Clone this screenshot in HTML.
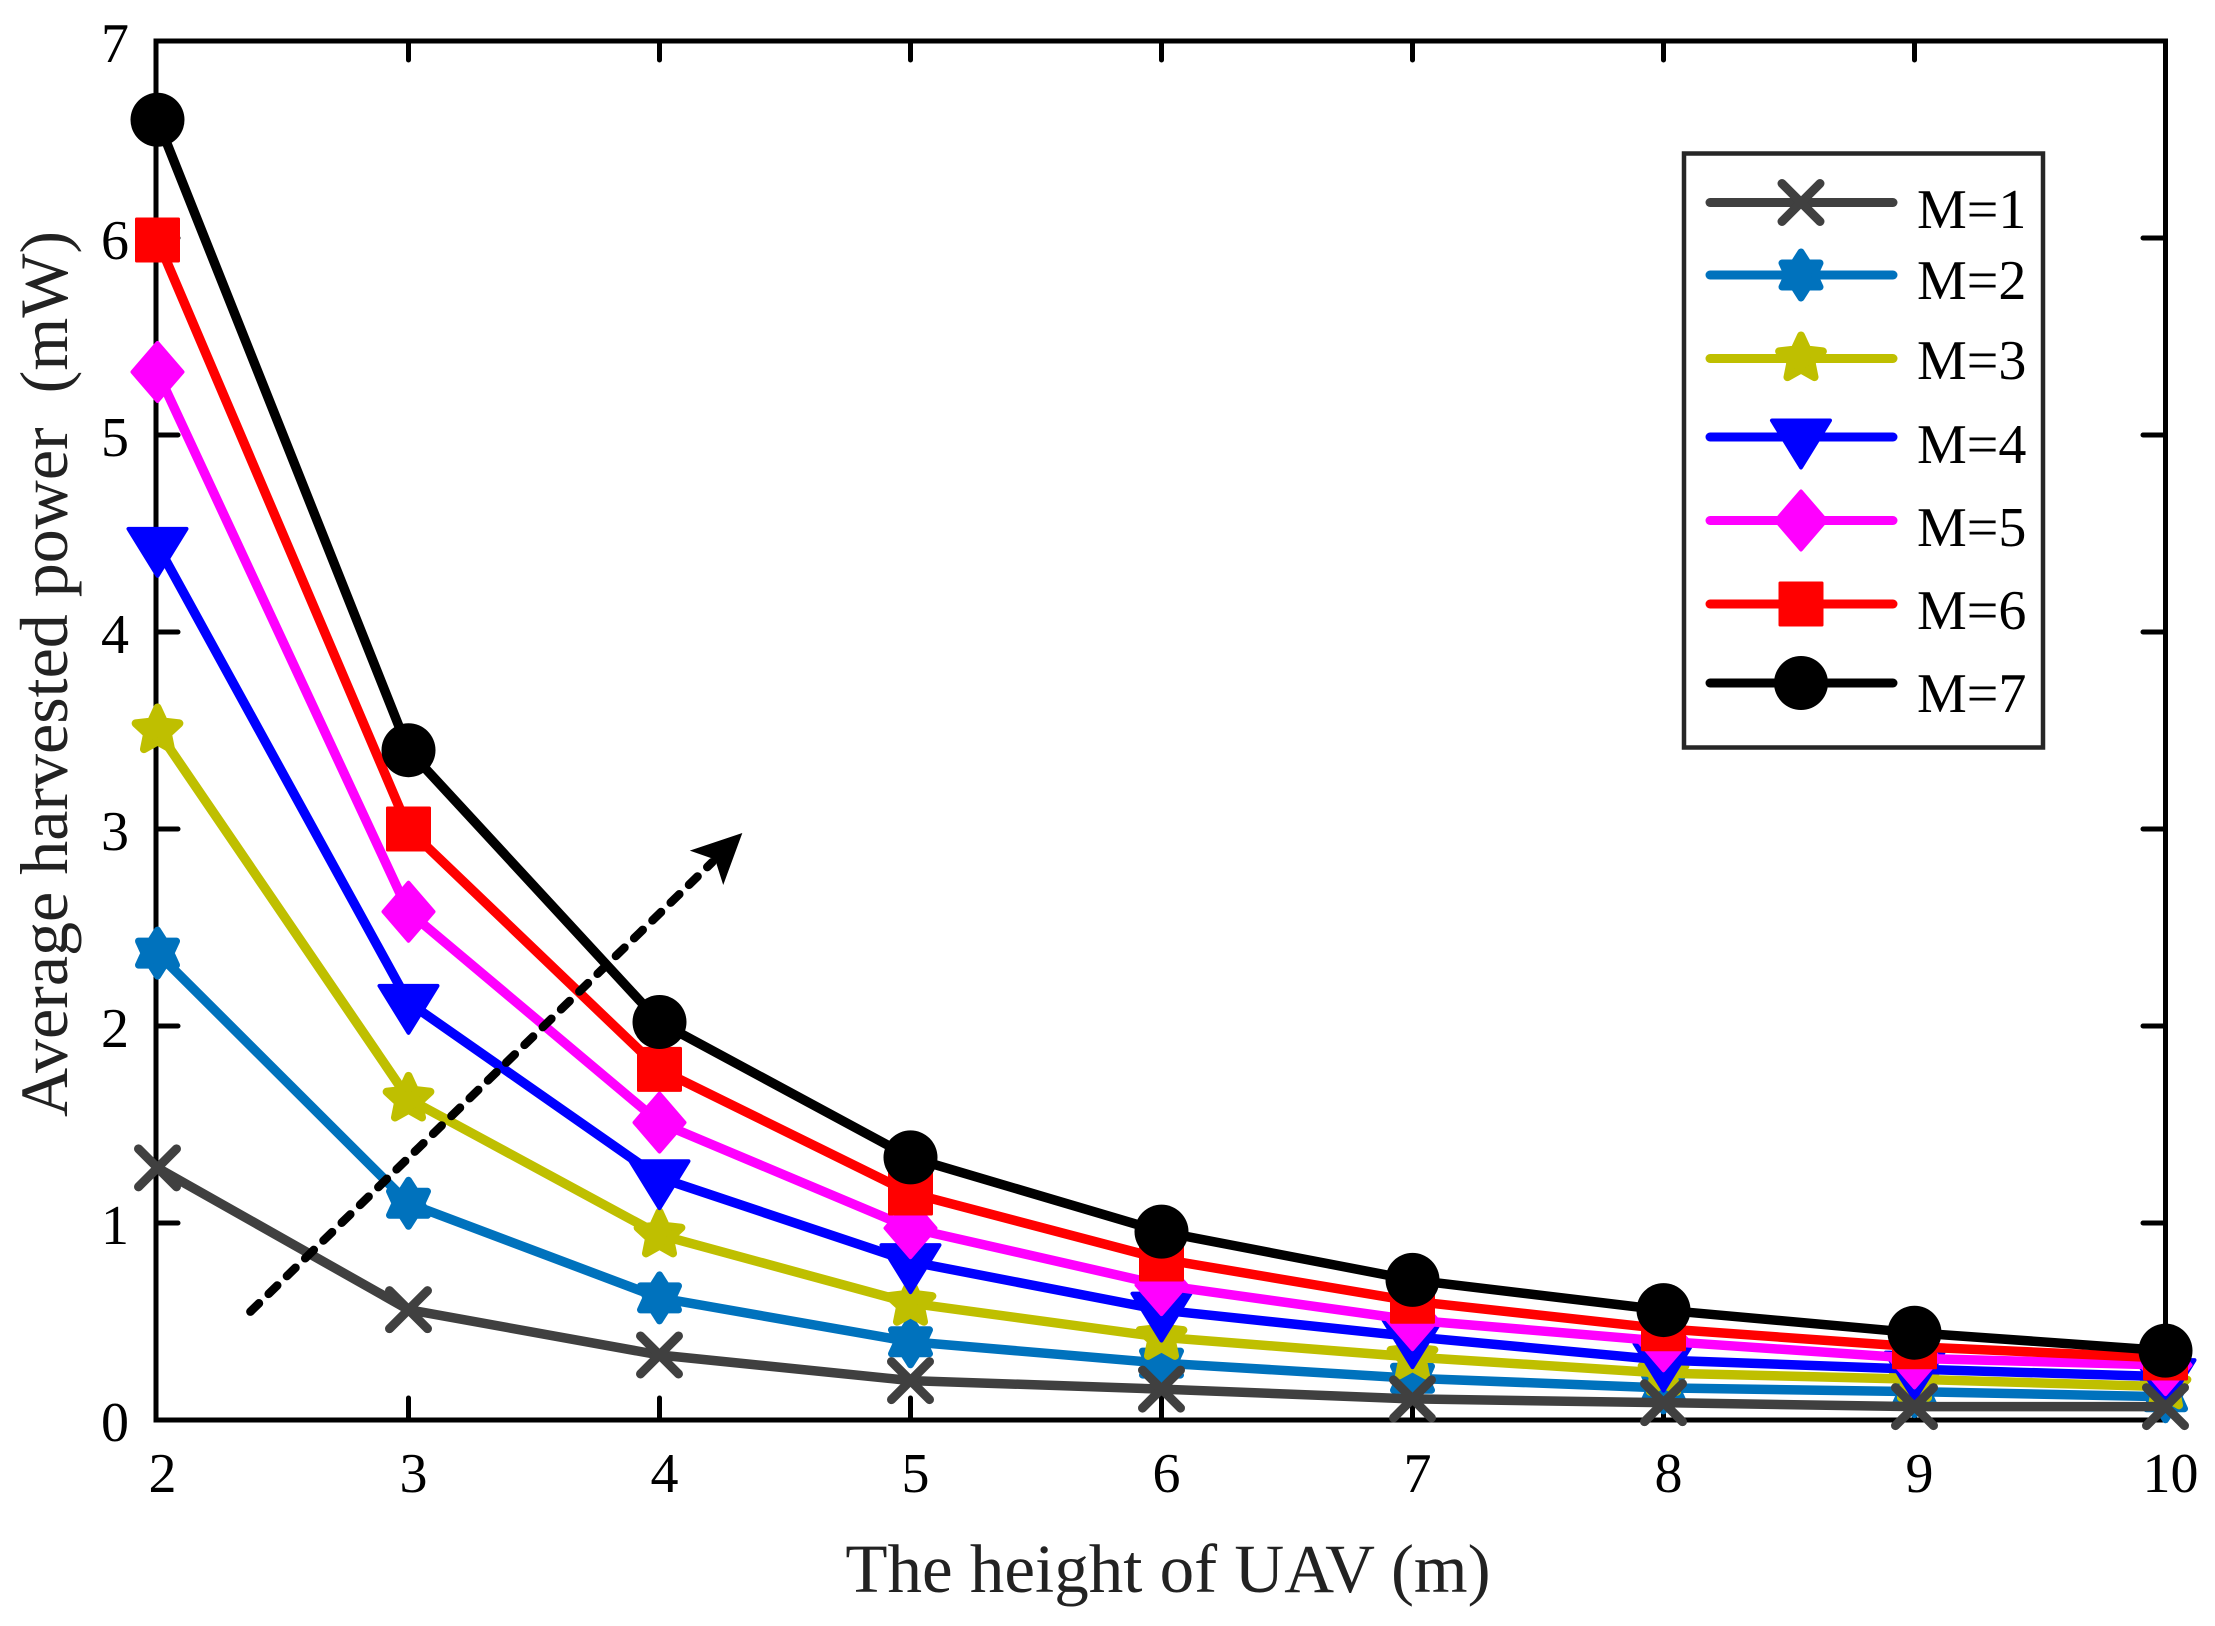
<!DOCTYPE html>
<html lang="en">
<head>
<meta charset="utf-8">
<title>Average harvested power vs UAV height</title>
<style>
html,body{margin:0;padding:0;background:#fff;width:2215px;height:1626px;overflow:hidden}
svg{display:block}
text{font-family:"Liberation Serif",serif;fill:#000}
</style>
</head>
<body>
<svg id="chart" xmlns="http://www.w3.org/2000/svg" width="2215" height="1626" viewBox="0 0 2215 1626">
  <rect x="0" y="0" width="2215" height="1626" fill="#fff"/>
  <g id="ticks"></g>
  <g id="tick-labels"></g>
  <rect x="156" y="41" width="2009.5" height="1379" fill="none" stroke="#000" stroke-width="5"/>
  <g id="series"></g>
  <g id="arrow"></g>
  <text x="1168" y="1592" text-anchor="middle" font-size="69" style="fill:#222">The height of UAV (m)</text>
  <text transform="translate(67 674) rotate(-90)" text-anchor="middle" font-size="68" style="fill:#222">Average harvested power&#160; (mW)</text>
  <g>
    <rect x="1684" y="153.5" width="359" height="594" fill="#fff" stroke="#262626" stroke-width="4.5"/>
    <g class="legend-row" data-row-y="202.5"><text x="1917" y="228" font-size="56">M=1</text></g>
    <g class="legend-row" data-row-y="275"><text x="1917" y="299" font-size="56">M=2</text></g>
    <g class="legend-row" data-row-y="358.5"><text x="1917" y="379" font-size="56">M=3</text></g>
    <g class="legend-row" data-row-y="437"><text x="1917" y="463" font-size="56">M=4</text></g>
    <g class="legend-row" data-row-y="520.5"><text x="1917" y="546" font-size="56">M=5</text></g>
    <g class="legend-row" data-row-y="604"><text x="1917" y="629" font-size="56">M=6</text></g>
    <g class="legend-row" data-row-y="683"><text x="1917" y="712" font-size="56">M=7</text></g>
  </g>
</svg>
<script>
const heights = [2, 3, 4, 5, 6, 7, 8, 9, 10];
const xTickLabels = ['2', '3', '4', '5', '6', '7', '8', '9', '10'];
const yTickLabels = ['0', '1', '2', '3', '4', '5', '6', '7'];
const powerM1 = [1.28, 0.56, 0.33, 0.20, 0.157, 0.107, 0.088, 0.068, 0.068];
const powerM2 = [2.37, 1.10, 0.62, 0.397, 0.289, 0.212, 0.163, 0.144, 0.118];
const powerM3 = [3.50, 1.63, 0.94, 0.593, 0.42, 0.32, 0.238, 0.207, 0.169];
const powerM4 = [4.44, 2.12, 1.23, 0.804, 0.558, 0.423, 0.304, 0.258, 0.22];
const powerM5 = [5.32, 2.58, 1.51, 0.974, 0.685, 0.507, 0.40, 0.313, 0.279];
const powerM6 = [5.99, 3.00, 1.78, 1.152, 0.817, 0.603, 0.463, 0.372, 0.315];
const powerM7 = [6.60, 3.40, 2.02, 1.333, 0.956, 0.711, 0.558, 0.443, 0.352];
const seriesNames = ['m1', 'm2', 'm3', 'm4', 'm5', 'm6', 'm7'];
const seriesValues = [powerM1, powerM2, powerM3, powerM4, powerM5, powerM6, powerM7];
const seriesColors = ['#404040', '#0072BD', '#BFBF00', '#0000FF', '#FF00FF', '#FF0000', '#000000'];
const arrowStart = [2.37, 0.55];
const arrowEnd = [4.33, 2.98];

const NS = 'http://www.w3.org/2000/svg';
const xScale = v => 157.5 + (v - 2) * 251;
const yScale = v => 1420 - v * 197;
function make(tag, attrs, parent) {
  const el = document.createElementNS(NS, tag);
  for (const k in attrs) el.setAttribute(k, attrs[k]);
  parent.appendChild(el);
  return el;
}
function starPoints(outer, inner, n) {
  const pts = [];
  for (let i = 0; i < n * 2; i++) {
    const r = i % 2 ? inner : outer;
    const a = -Math.PI / 2 + i * Math.PI / n;
    pts.push((r * Math.cos(a)).toFixed(2) + ',' + (r * Math.sin(a)).toFixed(2));
  }
  return pts.join(' ');
}
function drawMarker(kind, cx, cy, color, parent) {
  const g = make('g', { transform: 'translate(' + cx + ' ' + cy + ')' }, parent);
  
  
  const solid = { fill: color, stroke: color, 'stroke-linejoin': 'round' };
  if (kind === 0) {
    make('path', { d: 'M-19,-19L19,19M-19,19L19,-19', fill: 'none', stroke: color, 'stroke-width': 9, 'stroke-linecap': 'round' }, g);
  } else if (kind === 1) {
    make('polygon', Object.assign({ points: '0,-23 7,-12 19,-12 13.5,0 19,12 7,12 0,23 -7,12 -19,12 -13.5,0 -19,-12 -7,-12', 'stroke-width': 7 }, solid), g);
  } else if (kind === 2) {
    make('polygon', Object.assign({ points: starPoints(23, 11, 5), 'stroke-width': 8 }, solid), g);
  } else if (kind === 3) {
    make('polygon', { points: '-29,-16.5 29,-16.5 0,30.5', fill: color, stroke: color, 'stroke-width': 4, 'stroke-linejoin': 'round' }, g);
  } else if (kind === 4) {
    make('polygon', Object.assign({ points: '0,-29 25,0 0,29 -25,0', 'stroke-width': 4 }, solid), g);
  } else if (kind === 5) {
    make('rect', Object.assign({ x: -21, y: -21, width: 42, height: 42, 'stroke-width': 3 }, solid), g);
  } else {
    make('circle', { cx: 0, cy: 0, r: 27, fill: color }, g);
  }
}

const ticksG = document.getElementById('ticks');
const labelsG = document.getElementById('tick-labels');
heights.forEach((h, i) => {
  const x = xScale(h);
  if (i > 0 && i < heights.length - 1) {
    const top = make('line', { x1: x, x2: x, y1: 41, y2: 60, stroke: '#000', 'stroke-width': 5, 'stroke-linecap': 'round' }, ticksG);
    
    
    const bottom = make('line', { x1: x, x2: x, y1: 1420, y2: 1398, stroke: '#000', 'stroke-width': 5, 'stroke-linecap': 'round' }, ticksG);
    
    
  }
  const t = make('text', { x: x + 5, y: 1492, 'text-anchor': 'middle', 'font-size': 56 }, labelsG);
  
  
  t.textContent = xTickLabels[i];
});
yTickLabels.forEach((lab, i) => {
  const y = yScale(Number(lab));
  if (i > 0 && i < yTickLabels.length - 1) {
    const left = make('line', { x1: 156, x2: 178, y1: y, y2: y, stroke: '#000', 'stroke-width': 5, 'stroke-linecap': 'round' }, ticksG);
    
    
    const right = make('line', { x1: 2165, x2: 2143, y1: y, y2: y, stroke: '#000', 'stroke-width': 5, 'stroke-linecap': 'round' }, ticksG);
    
    
  }
  const t = make('text', { x: 115, y: y + 21, 'text-anchor': 'middle', 'font-size': 56 }, labelsG);
  
  
  t.textContent = lab;
});

const seriesG = document.getElementById('series');
[1, 2, 3, 4, 5, 6, 0].forEach(k => {
  const g = make('g', {}, seriesG);
  
  
  const pts = seriesValues[k].map((v, i) => xScale(heights[i]) + ',' + yScale(v)).join(' ');
  const line = make('polyline', { points: pts, fill: 'none', stroke: seriesColors[k], 'stroke-width': 9.5, 'stroke-linejoin': 'round' }, g);
  
  
  seriesValues[k].forEach((v, i) => drawMarker(k, xScale(heights[i]), yScale(v), seriesColors[k], g));
});

const arrowG = document.getElementById('arrow');
const ax0 = xScale(arrowStart[0]), ay0 = yScale(arrowStart[1]);
const ax1 = xScale(arrowEnd[0]), ay1 = yScale(arrowEnd[1]);
const ang = Math.atan2(ay1 - ay0, ax1 - ax0);
const along = (d, off) => [ax1 - d * Math.cos(ang) - off * Math.sin(ang), ay1 - d * Math.sin(ang) + off * Math.cos(ang)];
const lineEnd = along(42, 0);
const shaft = make('line', { x1: ax0, y1: ay0, x2: lineEnd[0], y2: lineEnd[1], stroke: '#000', 'stroke-width': 8.5, 'stroke-linecap': 'round', 'stroke-dasharray': '12 13.5' }, arrowG);


const hA = along(50, 24), hB = along(50, -24), hN = along(38, 0);
const head = make('polygon', { points: [[ax1, ay1], hA, hN, hB].map(p => p[0] + ',' + p[1]).join(' '), fill: '#000' }, arrowG);



document.querySelectorAll('.legend-row').forEach((row, k) => {
  const y = Number(row.getAttribute('data-row-y'));
  const sample = make('line', { x1: 1710, x2: 1893, y1: y, y2: y, stroke: seriesColors[k], 'stroke-width': 9, 'stroke-linecap': 'round' }, row);
  
  
  drawMarker(k, 1801, y, seriesColors[k], row);
});
</script>
</body>
</html>
